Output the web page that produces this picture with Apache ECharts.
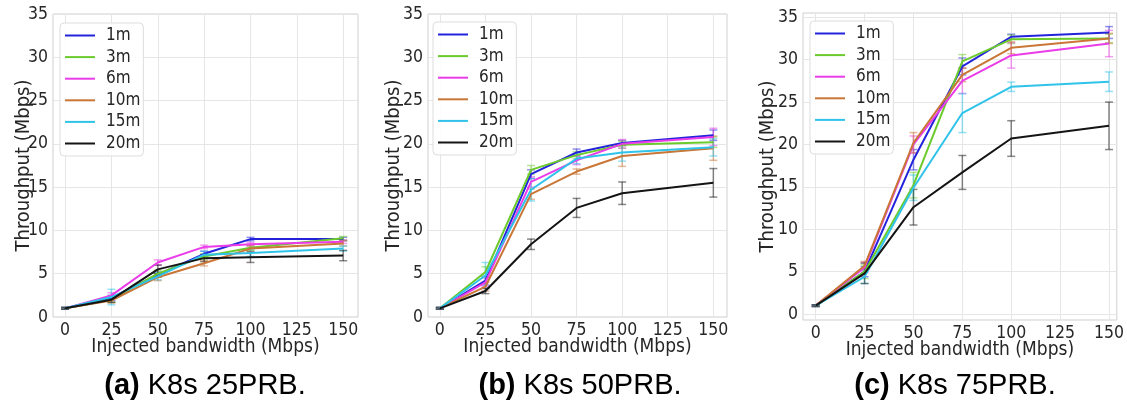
<!DOCTYPE html>
<html>
<head>
<meta charset="utf-8">
<script src="https://cdn.jsdelivr.net/npm/echarts@6/dist/echarts.min.js"></script>
<style>
  html, body { margin: 0; padding: 0; background: #ffffff; }
  #chart { width: 1127px; height: 405px; }
</style>
</head>
<body>
<div id="chart"></div>
<script>
// Injected bandwidth (Mbps) at which throughput was measured
const bandwidth = [0, 25, 50, 75, 100, 150];
// UE distances, one line per distance
const distances = ['1m', '3m', '6m', '10m', '15m', '20m'];
// Axis tick labels
const xTicks = [0, 25, 50, 75, 100, 125, 150];
const yTicks = [0, 5, 10, 15, 20, 25, 30, 35];

// Mean throughput (Mbps), rows follow `distances`
const prb25Mean = [
  [1.0, 2.2, 4.9, 7.3, 9.0, 9.0],
  [1.0, 2.0, 5.0, 7.0, 8.0, 9.1],
  [1.0, 2.5, 6.3, 8.1, 8.4, 8.7],
  [1.0, 1.9, 4.6, 6.2, 7.9, 8.5],
  [1.0, 2.3, 4.7, 7.2, 7.4, 7.9],
  [1.0, 2.0, 5.5, 6.8, 6.9, 7.1]
];
const prb50Mean = [
  [1.0, 4.2, 16.5, 19.0, 20.1, 21.0],
  [1.0, 5.2, 17.0, 18.7, 19.9, 20.2],
  [1.0, 4.0, 15.6, 18.1, 20.0, 20.8],
  [1.0, 3.5, 14.2, 16.8, 18.6, 19.5],
  [1.0, 4.8, 14.7, 18.3, 19.0, 19.6],
  [1.0, 3.0, 8.4, 12.6, 14.3, 15.5]
];
const prb75Mean = [
  [1.0, 5.0, 18.2, 29.2, 32.7, 33.2],
  [1.0, 5.0, 15.2, 29.8, 32.4, 32.5],
  [1.0, 5.5, 20.0, 27.5, 30.5, 31.9],
  [1.0, 5.7, 20.2, 28.2, 31.4, 32.5],
  [1.0, 4.4, 14.9, 23.7, 26.8, 27.4],
  [1.0, 4.8, 12.6, 16.7, 20.7, 22.2]
];

// Standard deviation (Mbps) for the error bars
const prb25Std = [
  [0.1, 0.3, 0.3, 0.3, 0.2, 0.2],
  [0.1, 0.3, 0.4, 0.3, 0.3, 0.2],
  [0.1, 0.3, 0.3, 0.2, 0.2, 0.2],
  [0.1, 0.3, 0.4, 0.3, 0.3, 0.3],
  [0.1, 0.9, 0.4, 0.4, 0.4, 0.3],
  [0.1, 0.3, 0.5, 0.4, 0.6, 0.6]
];
const prb50Std = [
  [0.1, 0.5, 0.5, 0.4, 0.3, 0.6],
  [0.1, 0.6, 0.5, 0.4, 0.4, 0.6],
  [0.1, 0.5, 0.6, 0.5, 0.5, 1.0],
  [0.1, 0.5, 0.6, 0.3, 1.2, 1.4],
  [0.1, 1.5, 1.3, 0.6, 1.0, 1.0],
  [0.1, 0.3, 0.6, 1.1, 1.3, 1.65]
];
const prb75Std = [
  [0.1, 0.6, 1.2, 1.0, 0.3, 0.7],
  [0.1, 0.8, 1.5, 0.8, 0.5, 0.5],
  [0.1, 0.6, 1.0, 1.5, 1.5, 1.55],
  [0.1, 0.5, 1.2, 0.8, 0.7, 0.6],
  [0.1, 0.8, 1.5, 2.3, 0.55, 1.15],
  [0.1, 1.2, 2.1, 2.0, 2.1, 2.8]
];

const captions = ['(a)', '(b)', '(c)'];
const captionTexts = ['K8s 25PRB.', 'K8s 50PRB.', 'K8s 75PRB.'];

// ---- styling ----
const colors = ['#2323dc', '#6ccb2c', '#ea3ce8', '#c97636', '#30c3ea', '#141414'];
const tickFont = "'DejaVu Sans Condensed', 'DejaVu Sans', sans-serif";
const captionFont = "'Liberation Sans', Arial, sans-serif";
const panels = [
  { mean: prb25Mean, std: prb25Std, grid: { left: 53, top: 14, width: 305, height: 303 },
    x: [-6.5, 158], y: [0, 35], legend: { left: 60, top: 23 }, caption: 205, yGap: 19 },
  { mean: prb50Mean, std: prb50Std, grid: { left: 428, top: 14, width: 299, height: 303 },
    x: [-6.5, 157.5], y: [0, 35], legend: { left: 433, top: 22 }, caption: 580, yGap: 24 },
  { mean: prb75Mean, std: prb75Std, grid: { left: 803, top: 13, width: 317, height: 307 },
    x: [-6.5, 154], y: [-0.7, 35.5], legend: { left: 810, top: 21 }, caption: 955, yGap: 25 }
];

function errorBarRenderer(color) {
  return function (params, api) {
    const x = api.value(0);
    const lo = api.coord([x, api.value(1)]);
    const hi = api.coord([x, api.value(2)]);
    const half = 4;
    const style = { stroke: color, lineWidth: 1.5, opacity: 0.5 };
    return {
      type: 'group',
      children: [
        { type: 'line', shape: { x1: lo[0], y1: lo[1], x2: hi[0], y2: hi[1] }, style: style },
        { type: 'line', shape: { x1: hi[0] - half, y1: hi[1], x2: hi[0] + half, y2: hi[1] }, style: style },
        { type: 'line', shape: { x1: lo[0] - half, y1: lo[1], x2: lo[0] + half, y2: lo[1] }, style: style }
      ]
    };
  };
}

const grids = [], xAxes = [], yAxes = [], legends = [], series = [], graphics = [];

panels.forEach(function (p, gi) {
  grids.push(Object.assign({
    show: true, borderColor: '#cfcfcf', borderWidth: 1, backgroundColor: '#ffffff'
  }, p.grid));

  xAxes.push({
    type: 'value', gridIndex: gi, min: p.x[0], max: p.x[1],
    name: 'Injected bandwidth (Mbps)', nameLocation: 'middle', nameGap: 21, nameMoveOverlap: false,
    nameTextStyle: { fontFamily: tickFont, fontSize: 19, color: '#262626' },
    axisLine: { show: false }, axisTick: { show: false, customValues: xTicks },
    axisLabel: { customValues: xTicks, fontFamily: tickFont, fontSize: 17.5, color: '#262626', margin: 4 },
    splitLine: { show: true, lineStyle: { color: '#e6e6e6', width: 1 } }
  });

  yAxes.push({
    type: 'value', gridIndex: gi, min: p.y[0], max: p.y[1],
    name: 'Throughput (Mbps)', nameLocation: 'middle', nameGap: p.yGap, nameRotate: 90, nameMoveOverlap: false,
    nameTextStyle: { fontFamily: tickFont, fontSize: 20, color: '#262626' },
    axisLine: { show: false }, axisTick: { show: false, customValues: yTicks },
    axisLabel: { customValues: yTicks, fontFamily: tickFont, fontSize: 17.5, color: '#262626', margin: 5 },
    splitLine: { show: true, lineStyle: { color: '#e6e6e6', width: 1 } }
  });

  legends.push({
    left: p.legend.left, top: p.legend.top, orient: 'vertical',
    data: distances, icon: 'rect', itemWidth: 30, itemHeight: 2, itemGap: 4.6,
    padding: [4, 3, 4, 5], selectedMode: false,
    backgroundColor: 'rgba(255,255,255,0.85)', borderColor: '#dddddd', borderWidth: 1, borderRadius: 4,
    textStyle: { fontFamily: tickFont, fontSize: 17, lineHeight: 17, color: '#262626', padding: [0, 0, 0, 6] }
  });

  distances.forEach(function (d, si) {
    const mean = p.mean[si], std = p.std[si];
    series.push({
      name: d + ' std', type: 'custom', xAxisIndex: gi, yAxisIndex: gi,
      renderItem: errorBarRenderer(colors[si]), silent: true, z: 1,
      encode: { x: 0, y: [1, 2] },
      data: bandwidth.map(function (b, i) { return [b, mean[i] - std[i], mean[i] + std[i]]; })
    });
    series.push({
      name: d, type: 'line', xAxisIndex: gi, yAxisIndex: gi, z: 2,
      symbol: 'none', color: colors[si], lineStyle: { width: 2, color: colors[si] },
      animation: false,
      data: bandwidth.map(function (b, i) { return [b, mean[i]]; })
    });
  });

  graphics.push({
    type: 'text', x: p.caption, y: 386,
    style: {
      text: '{b|' + captions[gi] + '}{n| ' + captionTexts[gi] + '}',
      textAlign: 'center', textVerticalAlign: 'middle',
      rich: {
        b: { fontFamily: captionFont, fontWeight: 'bold', fontSize: 29, fill: '#000' },
        n: { fontFamily: captionFont, fontSize: 29, fill: '#000' }
      }
    }
  });
});

const chart = echarts.init(document.getElementById('chart'), null, { renderer: 'canvas' });
chart.setOption({
  animation: false,
  backgroundColor: '#ffffff',
  grid: grids,
  xAxis: xAxes,
  yAxis: yAxes,
  legend: legends,
  series: series,
  graphic: graphics
});
</script>
</body>
</html>
